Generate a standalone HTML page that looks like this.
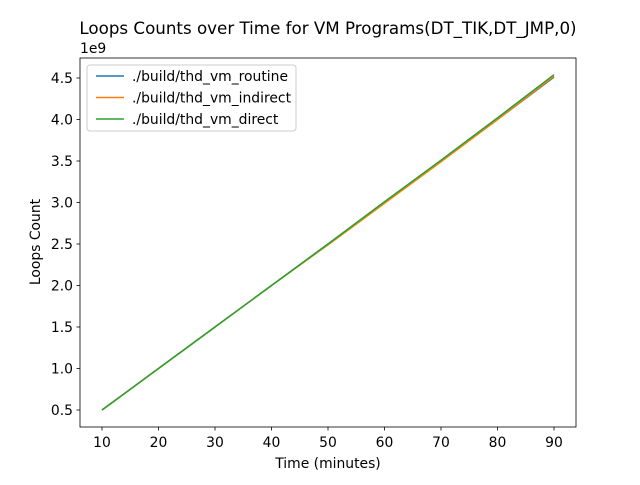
<!DOCTYPE html>
<html><head><meta charset="utf-8"><style>
body{margin:0;background:#fff;}
svg text{font-family:"DejaVu Sans","Liberation Sans",sans-serif;fill:#000;}
</style></head><body>
<svg id="chart" width="640" height="480">
<rect width="640" height="480" fill="#fff"/>
<text x="328" y="34" font-size="16.7" text-anchor="middle">Loops Counts over Time for VM Programs(DT_TIK,DT_JMP,0)</text>
<g id="plot"></g>
<rect x="80" y="58" width="496" height="369" fill="none" stroke="#000" stroke-width="0.8"/>
<text x="80" y="53" font-size="13.9">1e9</text>
<text x="328" y="468" font-size="13.9" text-anchor="middle">Time (minutes)</text>
<text transform="translate(40,242) rotate(-90)" font-size="13.9" text-anchor="middle">Loops Count</text>
<g>
<rect x="87" y="65" width="209" height="66" rx="3" fill="#fff" fill-opacity="0.8" stroke="#ccc"/>
</g>
</svg>
<script>
const times=[10,20,30,40,50,60,70,80,90];
const routine=[0.5,1.0,1.5,2.0,2.5,3.0,3.5,4.0,4.51];
const indirect=[0.5,1.0,1.5,2.0,2.49,2.99,3.49,4.0,4.52];
const direct=[0.5,1.0,1.5,2.0,2.5,3.01,3.51,4.02,4.54];
const xTicks=[10,20,30,40,50,60,70,80,90];
const yTicks=[0.5,1.0,1.5,2.0,2.5,3.0,3.5,4.0,4.5];
const names=["./build/thd_vm_routine","./build/thd_vm_indirect","./build/thd_vm_direct"];
const colors=["#1f77b4","#ff7f0e","#2ca02c"];
const NS="http://www.w3.org/2000/svg";
const X=v=>102+(v-10)*(554-102)/80;
const Y=v=>410-(v-0.5)*83;
const svg=document.getElementById('chart');
const g=document.getElementById('plot');
function mk(t,a,p){const e=document.createElementNS(NS,t);for(const k in a)e.setAttribute(k,a[k]);(p||g).appendChild(e);return e;}
xTicks.forEach(t=>{
 const l=mk('line',{x1:X(t),x2:X(t),y1:427,y2:430.5,stroke:'#000','stroke-width':0.8});
 
 
 const tx=mk('text',{x:X(t),y:447,'font-size':13.9,'text-anchor':'middle'});tx.textContent=t;
 
 
});
yTicks.forEach(t=>{
 const l=mk('line',{x1:76.5,x2:80,y1:Y(t),y2:Y(t),stroke:'#000','stroke-width':0.8});
 
 
 const tx=mk('text',{x:73,y:Y(t)+5,'font-size':13.9,'text-anchor':'end'});tx.textContent=t.toFixed(1);
 
 
});
[routine,indirect,direct].forEach((s,i)=>{
 const p=mk('polyline',{points:s.map((v,j)=>X(times[j])+','+Y(v)).join(' '),fill:'none',stroke:colors[i],'stroke-width':1.5});
 
 
 const ly=76+i*21.5;
 const ll=mk('line',{x1:96,x2:124,y1:ly,y2:ly,stroke:colors[i],'stroke-width':1.5},svg);
 
 
 const lt=mk('text',{x:132,y:ly+5,'font-size':13.9},svg);lt.textContent=names[i];
 
 
});
</script>
</body></html>
